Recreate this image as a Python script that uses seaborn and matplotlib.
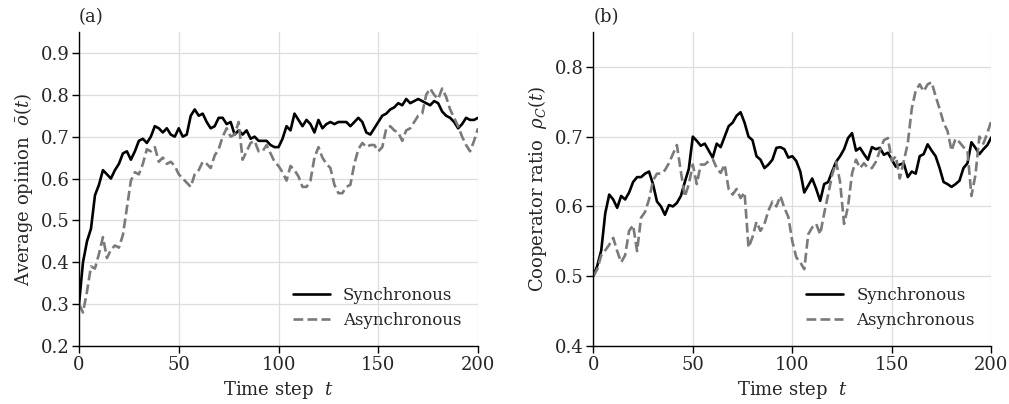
import numpy as np
import pandas as pd
import matplotlib
matplotlib.use("Agg")
import matplotlib.pyplot as plt
import seaborn as sns

# time axis (every 2 steps)
time_steps = list(range(0, 201, 2))

# (a) average opinion
opinion_sync = [
    0.30, 0.40, 0.45, 0.48, 0.56, 0.585, 0.62, 0.61, 0.60, 0.62,
    0.635, 0.66, 0.665, 0.645, 0.665, 0.69, 0.695, 0.685, 0.70, 0.725,
    0.72, 0.71, 0.72, 0.705, 0.70, 0.72, 0.70, 0.705, 0.75, 0.765,
    0.75, 0.755, 0.735, 0.72, 0.725, 0.745, 0.745, 0.73, 0.735, 0.705,
    0.715, 0.705, 0.715, 0.695, 0.70, 0.69, 0.69, 0.69, 0.68, 0.675,
    0.675, 0.695, 0.725, 0.715, 0.755, 0.74, 0.725, 0.74, 0.73, 0.71,
    0.74, 0.72, 0.73, 0.735, 0.73, 0.735, 0.735, 0.735, 0.725, 0.735,
    0.745, 0.735, 0.71, 0.705, 0.72, 0.735, 0.75, 0.755, 0.765, 0.77,
    0.78, 0.775, 0.79, 0.78, 0.785, 0.79, 0.785, 0.78, 0.775, 0.785,
    0.78, 0.76, 0.75, 0.745, 0.735, 0.72, 0.73, 0.745, 0.74, 0.74,
    0.745,
]
opinion_async = [
    0.30, 0.28, 0.33, 0.39, 0.385, 0.42, 0.46, 0.41, 0.43, 0.44,
    0.435, 0.465, 0.53, 0.595, 0.615, 0.61, 0.635, 0.67, 0.665, 0.675,
    0.64, 0.65, 0.635, 0.64, 0.63, 0.61, 0.60, 0.59, 0.58, 0.61,
    0.62, 0.64, 0.635, 0.625, 0.655, 0.67, 0.70, 0.72, 0.70, 0.705,
    0.735, 0.645, 0.665, 0.685, 0.69, 0.665, 0.665, 0.68, 0.66, 0.64,
    0.63, 0.615, 0.595, 0.63, 0.62, 0.605, 0.58, 0.58, 0.595, 0.65,
    0.675, 0.65, 0.635, 0.625, 0.585, 0.565, 0.565, 0.58, 0.585, 0.635,
    0.67, 0.685, 0.675, 0.68, 0.68, 0.665, 0.675, 0.72, 0.725, 0.715,
    0.71, 0.69, 0.715, 0.72, 0.735, 0.75, 0.755, 0.80, 0.815, 0.80,
    0.79, 0.815, 0.795, 0.765, 0.745, 0.725, 0.70, 0.68, 0.665, 0.69,
    0.72,
]

# (b) cooperator ratio
coop_sync = [
    0.50, 0.515, 0.537, 0.59, 0.617, 0.61, 0.598, 0.615, 0.61, 0.62,
    0.635, 0.642, 0.642, 0.647, 0.65, 0.632, 0.607, 0.60, 0.588, 0.602,
    0.60, 0.605, 0.615, 0.635, 0.654, 0.70, 0.694, 0.687, 0.69, 0.68,
    0.67, 0.69, 0.685, 0.70, 0.715, 0.72, 0.73, 0.735, 0.72, 0.70,
    0.695, 0.672, 0.667, 0.655, 0.66, 0.667, 0.684, 0.685, 0.682, 0.67,
    0.672, 0.665, 0.65, 0.62, 0.63, 0.64, 0.625, 0.608, 0.632, 0.635,
    0.65, 0.664, 0.672, 0.682, 0.698, 0.705, 0.68, 0.684, 0.675, 0.667,
    0.685, 0.682, 0.684, 0.674, 0.677, 0.667, 0.657, 0.66, 0.662, 0.642,
    0.65, 0.647, 0.672, 0.675, 0.689, 0.68, 0.672, 0.655, 0.635, 0.632,
    0.628, 0.632, 0.637, 0.655, 0.662, 0.692, 0.684, 0.675, 0.682, 0.688,
    0.699,
]
coop_async = [
    0.50, 0.51, 0.53, 0.537, 0.545, 0.555, 0.536, 0.52, 0.53, 0.565,
    0.573, 0.536, 0.584, 0.592, 0.61, 0.637, 0.647, 0.647, 0.652, 0.662,
    0.675, 0.688, 0.65, 0.614, 0.632, 0.66, 0.632, 0.66, 0.66, 0.665,
    0.668, 0.655, 0.648, 0.66, 0.625, 0.617, 0.625, 0.612, 0.62, 0.541,
    0.556, 0.578, 0.565, 0.575, 0.594, 0.607, 0.60, 0.615, 0.598, 0.585,
    0.55, 0.527, 0.52, 0.51, 0.56, 0.57, 0.575, 0.56, 0.59, 0.617,
    0.645, 0.664, 0.635, 0.575, 0.60, 0.647, 0.667, 0.655, 0.662, 0.655,
    0.655, 0.664, 0.68, 0.695, 0.698, 0.665, 0.672, 0.64, 0.665, 0.69,
    0.74, 0.766, 0.775, 0.765, 0.775, 0.778, 0.758, 0.74, 0.72, 0.708,
    0.68, 0.697, 0.692, 0.685, 0.68, 0.615, 0.645, 0.70, 0.69, 0.705,
    0.723,
]

sns.set_style("whitegrid")
plt.rcParams["font.family"] = "DejaVu Serif"
plt.rcParams["mathtext.fontset"] = "dejavuserif"
plt.rcParams["font.size"] = 13

fig = plt.figure(figsize=(10.09, 4.04), dpi=100)
ax_a = fig.add_axes([0.0783, 0.1436, 0.3955, 0.7772])
ax_b = fig.add_axes([0.588, 0.1436, 0.3945, 0.7772])


def draw_panel(ax, sync, asyn, ylabel, ylim, yticks, tag):
    sns.lineplot(x=time_steps, y=sync, ax=ax, color="black", linewidth=1.9,
                 label="Synchronous")
    sns.lineplot(x=time_steps, y=asyn, ax=ax, color="#7a7a7a", linewidth=1.9,
                 linestyle="--", label="Asynchronous")
    ax.set_xlim(0, 200)
    ax.set_ylim(*ylim)
    ax.set_xticks([0, 50, 100, 150, 200])
    ax.set_yticks(yticks)
    ax.set_yticklabels([f"{v:.1f}" for v in yticks])
    ax.set_xlabel(r"Time step  $t$", fontsize=13)
    ax.set_ylabel(ylabel, fontsize=13)
    ax.tick_params(axis="both", labelsize=13, length=5, width=1,
                   left=True, bottom=True, color="black", pad=2)
    ax.grid(True, color="#dddddd", linewidth=0.9)
    for side in ["top", "right"]:
        ax.spines[side].set_visible(False)
    for side in ["left", "bottom"]:
        ax.spines[side].set_color("black")
        ax.spines[side].set_linewidth(1.0)
    ax.legend(loc="lower right", frameon=False, fontsize=12,
              handlelength=2.2, borderaxespad=0.6)
    ax.text(0.0, 1.02, tag, transform=ax.transAxes, fontsize=13,
            ha="left", va="bottom")


draw_panel(ax_a, opinion_sync, opinion_async,
           r"Average opinion  $\bar{o}(t)$", (0.2, 0.95),
           [0.2, 0.3, 0.4, 0.5, 0.6, 0.7, 0.8, 0.9], "(a)")
draw_panel(ax_b, coop_sync, coop_async,
           r"Cooperator ratio  $\rho_C(t)$", (0.4, 0.85),
           [0.4, 0.5, 0.6, 0.7, 0.8], "(b)")

fig.savefig("out.png", dpi=100)
